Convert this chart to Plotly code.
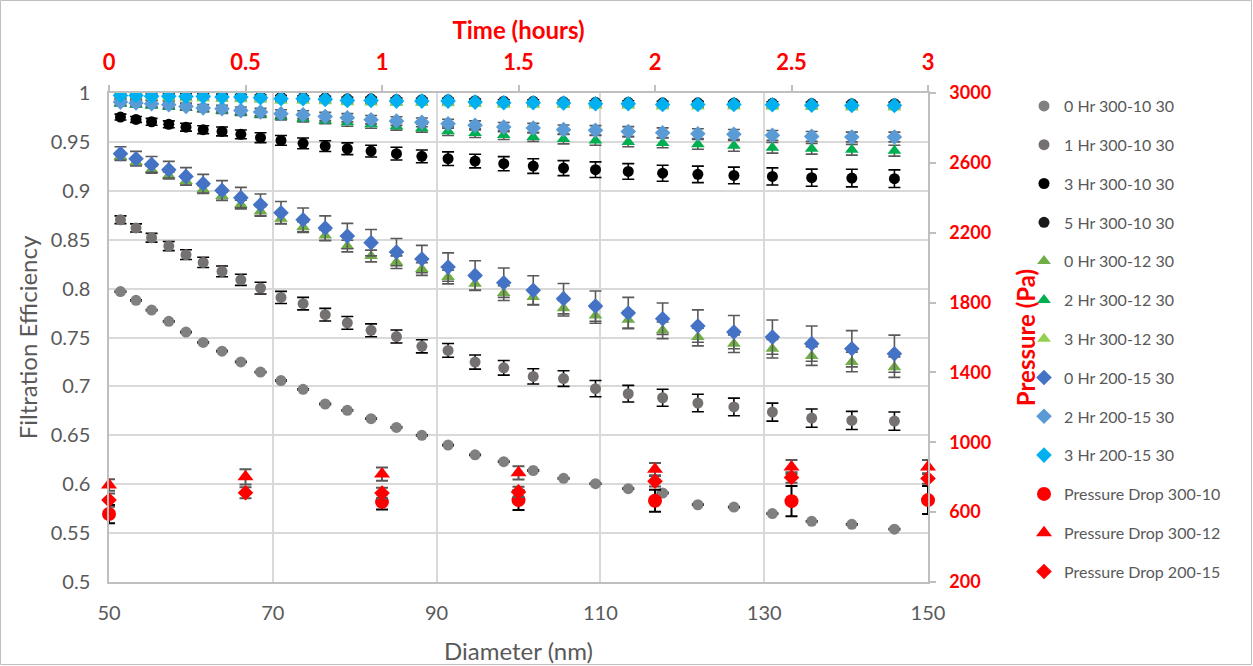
import plotly.graph_objects as go

# Particle diameters (nm) of the SMPS channels
diameter = [51.4, 53.3, 55.2, 57.3, 59.4, 61.5, 63.8, 66.1, 68.5, 71.0,
            73.7, 76.4, 79.1, 82.0, 85.1, 88.2, 91.4, 94.7, 98.2, 101.8,
            105.5, 109.4, 113.4, 117.6, 121.9, 126.3, 131.0, 135.8, 140.7, 145.9]

# Filtration efficiency, filter 300-10
eff_0h_300_10 = [0.797, 0.788, 0.778, 0.7665, 0.7555, 0.745, 0.736, 0.725, 0.7146, 0.706,
                 0.697, 0.682, 0.6755, 0.667, 0.658, 0.650, 0.640, 0.630, 0.623, 0.614,
                 0.606, 0.6005, 0.5954, 0.591, 0.579, 0.5766, 0.570, 0.562, 0.559, 0.554]
err_0h_300_10 = [0.0006] * 30

eff_1h_300_10 = [0.8704, 0.862, 0.852, 0.8435, 0.8347, 0.8268, 0.8176, 0.809, 0.8005, 0.791,
                 0.7846, 0.7733, 0.765, 0.7573, 0.751, 0.741, 0.7368, 0.7249, 0.719, 0.7102,
                 0.708, 0.6977, 0.6925, 0.6884, 0.683, 0.679, 0.6737, 0.6676, 0.6652, 0.6645]
err_1h_300_10 = [0.004, 0.0042, 0.0045, 0.0047, 0.005, 0.0052, 0.0055, 0.0057, 0.006, 0.0062,
                 0.0064, 0.0065, 0.0065, 0.0066, 0.0066, 0.0067, 0.007, 0.0072, 0.0075, 0.0078,
                 0.008, 0.0083, 0.0085, 0.0087, 0.0089, 0.009, 0.0092, 0.0093, 0.0093, 0.0093]

eff_3h_300_10 = [0.9754, 0.973, 0.9706, 0.968, 0.965, 0.9625, 0.9607, 0.9577, 0.9543, 0.9515,
                 0.9485, 0.9457, 0.943, 0.9406, 0.938, 0.9352, 0.9328, 0.9304, 0.9277, 0.9253,
                 0.9232, 0.9216, 0.9198, 0.918, 0.9168, 0.9157, 0.9147, 0.9134, 0.913, 0.9124]
err_3h_300_10 = [0.003, 0.003, 0.0035, 0.0035, 0.004, 0.004, 0.0045, 0.0045, 0.005, 0.005,
                 0.0055, 0.0055, 0.006, 0.006, 0.0065, 0.0065, 0.007, 0.007, 0.0072, 0.0075,
                 0.0077, 0.008, 0.008, 0.0082, 0.0084, 0.0085, 0.0087, 0.0088, 0.009, 0.009]

eff_5h_300_10 = [0.999, 0.999, 0.9985, 0.998, 0.998, 0.9978, 0.9972, 0.997, 0.9965, 0.9958,
                 0.9955, 0.995, 0.994, 0.994, 0.9933, 0.9932, 0.993, 0.9922, 0.9916, 0.9915,
                 0.991, 0.9905, 0.9905, 0.990, 0.990, 0.9898, 0.9895, 0.9892, 0.989, 0.989]
err_5h_300_10 = [0.0015] * 30

# Filtration efficiency, filter 300-12
eff_0h_300_12 = [0.935, 0.9294, 0.9216, 0.9157, 0.910, 0.9014, 0.8946, 0.886, 0.879, 0.8715,
                 0.863, 0.8544, 0.8435, 0.8333, 0.827, 0.820, 0.8118, 0.805, 0.7954, 0.7913,
                 0.780, 0.7726, 0.7682, 0.7573, 0.7504, 0.7437, 0.7385, 0.731, 0.725, 0.7197]
err_0h_300_12 = [0.003, 0.003, 0.0035, 0.0035, 0.004, 0.004, 0.0045, 0.0045, 0.005, 0.005,
                 0.0055, 0.0055, 0.006, 0.006, 0.0065, 0.0065, 0.007, 0.007, 0.0075, 0.0075,
                 0.008, 0.008, 0.0085, 0.0085, 0.009, 0.009, 0.0095, 0.0095, 0.010, 0.0105]

eff_2h_300_12 = [0.989, 0.988, 0.987, 0.986, 0.985, 0.9835, 0.982, 0.980, 0.978, 0.976,
                 0.974, 0.972, 0.970, 0.968, 0.966, 0.964, 0.961, 0.959, 0.957, 0.955,
                 0.953, 0.9515, 0.950, 0.949, 0.9475, 0.946, 0.944, 0.943, 0.942, 0.941]
err_2h_300_12 = [0.002, 0.002, 0.002, 0.0025, 0.0025, 0.0025, 0.003, 0.003, 0.003, 0.0035,
                 0.0035, 0.0035, 0.004, 0.004, 0.004, 0.004, 0.0045, 0.0045, 0.0045, 0.0045,
                 0.005, 0.005, 0.005, 0.005, 0.005, 0.0055, 0.0055, 0.0055, 0.0055, 0.0055]

eff_3h_300_12 = [0.9955, 0.9955, 0.9948, 0.9948, 0.9945, 0.9944, 0.9938, 0.9937, 0.9932, 0.9922,
                 0.9921, 0.9915, 0.9905, 0.9904, 0.9897, 0.9897, 0.9896, 0.9887, 0.988, 0.988,
                 0.9877, 0.987, 0.987, 0.9863, 0.9863, 0.9862, 0.986, 0.9856, 0.9853, 0.9852]
err_3h_300_12 = [0.0012] * 30

# Filtration efficiency, filter 200-15
eff_0h_200_15 = [0.938, 0.9328, 0.927, 0.9216, 0.9147, 0.9073, 0.9004, 0.893, 0.8858, 0.8776,
                 0.8704, 0.8619, 0.8537, 0.847, 0.8373, 0.8302, 0.822, 0.8135, 0.806, 0.7982,
                 0.7897, 0.7821, 0.775, 0.7692, 0.7617, 0.7555, 0.7504, 0.7437, 0.7385, 0.7334]
err_0h_200_15 = [0.007, 0.0075, 0.008, 0.0085, 0.009, 0.0095, 0.010, 0.0105, 0.011, 0.0115,
                 0.012, 0.0125, 0.013, 0.0135, 0.014, 0.014, 0.0145, 0.015, 0.015, 0.015,
                 0.0155, 0.0155, 0.016, 0.016, 0.0165, 0.017, 0.0175, 0.018, 0.0185, 0.019]

eff_2h_200_15 = [0.9907, 0.9897, 0.989, 0.988, 0.9863, 0.9846, 0.984, 0.982, 0.9805, 0.9788,
                 0.9778, 0.976, 0.9747, 0.9727, 0.9713, 0.970, 0.9686, 0.9669, 0.9652, 0.9642,
                 0.9625, 0.9618, 0.9607, 0.9594, 0.9584, 0.9577, 0.9567, 0.9556, 0.955, 0.955]
err_2h_200_15 = [0.003, 0.003, 0.003, 0.0032, 0.0033, 0.0035, 0.0035, 0.0037, 0.0038, 0.004,
                 0.004, 0.0042, 0.0042, 0.0043, 0.0044, 0.0045, 0.0045, 0.0046, 0.0047, 0.0047,
                 0.0048, 0.0048, 0.0049, 0.0049, 0.005, 0.005, 0.005, 0.005, 0.005, 0.005]

eff_3h_200_15 = [0.9975, 0.9975, 0.9968, 0.9968, 0.9965, 0.9965, 0.9958, 0.9958, 0.9952, 0.9942,
                 0.9942, 0.9935, 0.9924, 0.9924, 0.9917, 0.9917, 0.9917, 0.9907, 0.990, 0.990,
                 0.9897, 0.989, 0.989, 0.9883, 0.9883, 0.9883, 0.988, 0.9876, 0.9873, 0.9873]
err_3h_200_15 = [0.0012] * 30

# Pressure drop (Pa) against run time (hours)
time_h = [0, 0.5, 1, 1.5, 2, 2.5, 3]
dp_300_10 = [589, None, 659, 669, 665, 663, 669]
dp_err_300_10 = [52, 0, 44, 57, 63, 86, 80]
dp_300_12 = [755, 802, 818, 825, 846, 859, 859]
dp_err_300_12 = [33, 44, 38, 38, 35, 40, 40]
dp_200_15 = [669, 711, 709, 716, 777, 799, 793]
dp_err_200_15 = [38, 32, 30, 30, 30, 30, 30]

# Axis ticks
eff_ticks = [0.5, 0.55, 0.6, 0.65, 0.7, 0.75, 0.8, 0.85, 0.9, 0.95, 1.0]
eff_tick_labels = ["0.5", "0.55", "0.6", "0.65", "0.7", "0.75", "0.8", "0.85", "0.9", "0.95", "1"]
diam_ticks = [50, 70, 90, 110, 130, 150]
diam_tick_labels = ["50", "70", "90", "110", "130", "150"]
time_ticks = [0, 0.5, 1, 1.5, 2, 2.5, 3]
time_tick_labels = ["0", "0.5", "1", "1.5", "2", "2.5", "3"]
pres_ticks = [200, 600, 1000, 1400, 1800, 2200, 2600, 3000]
pres_tick_labels = ["200", "600", "1000", "1400", "1800", "2200", "2600", "3000"]

FONT = "Lato"
GREY_TXT = "#595959"
RED = "#FF0000"

fig = go.Figure()


def add_eff(name, y, err, color, symbol, size, err_color):
    fig.add_trace(go.Scatter(
        x=diameter, y=y, name=name, mode="markers", legendgroup=name,
        marker=dict(color=color, symbol=symbol, size=size, line=dict(width=0)),
        error_y=dict(type="data", array=err, visible=True, color=err_color,
                     thickness=1.6, width=6),
    ))


add_eff("0 Hr 300-10 30", eff_0h_300_10, err_0h_300_10, "#808080", "circle", 11, "#000000")
add_eff("1 Hr 300-10 30", eff_1h_300_10, err_1h_300_10, "#767171", "circle", 11, "#000000")
add_eff("3 Hr 300-10 30", eff_3h_300_10, err_3h_300_10, "#000000", "circle", 11, "#000000")
add_eff("5 Hr 300-10 30", eff_5h_300_10, err_5h_300_10, "#1A1A1A", "circle", 11, "#000000")
add_eff("0 Hr 300-12 30", eff_0h_300_12, err_0h_300_12, "#70AD47", "triangle-up", 12, "#595959")
add_eff("2 Hr 300-12 30", eff_2h_300_12, err_2h_300_12, "#00B050", "triangle-up", 12, "#595959")
add_eff("3 Hr 300-12 30", eff_3h_300_12, err_3h_300_12, "#92D050", "triangle-up", 12, "#595959")
add_eff("0 Hr 200-15 30", eff_0h_200_15, err_0h_200_15, "#4472C4", "diamond", 12, "#595959")
add_eff("2 Hr 200-15 30", eff_2h_200_15, err_2h_200_15, "#5B9BD5", "diamond", 12, "#595959")
add_eff("3 Hr 200-15 30", eff_3h_200_15, err_3h_200_15, "#00B0F0", "diamond", 12, "#595959")


def add_dp(name, y, err, symbol, size, err_color):
    fig.add_trace(go.Scatter(
        x=time_h, y=y, name=name, mode="markers", legendgroup=name,
        xaxis="x2", yaxis="y2", cliponaxis=False,
        marker=dict(color=RED, symbol=symbol, size=size, line=dict(width=0)),
        error_y=dict(type="data", array=err, visible=True, color=err_color,
                     thickness=2, width=6),
    ))


add_dp("Pressure Drop 300-10", dp_300_10, dp_err_300_10, "circle", 14, "#000000")
add_dp("Pressure Drop 300-12", dp_300_12, dp_err_300_12, "triangle-up", 14, "#595959")
add_dp("Pressure Drop 200-15", dp_200_15, dp_err_200_15, "diamond", 12, "#595959")

L, R, T, B = 109, 325, 93, 84
W, H = 1253, 666
PW, PH = W - L - R, H - T - B

axis_common = dict(showline=True, linecolor="#BFBFBF", linewidth=1.5, zeroline=False,
                   automargin=False)

fig.update_layout(
    width=W, height=H,
    margin=dict(l=L, r=R, t=T, b=B, pad=0, autoexpand=False),
    paper_bgcolor="white", plot_bgcolor="white",
    font=dict(family=FONT, color=GREY_TXT),
    showlegend=True,
    legend=dict(
        x=(1024 - L) / PW, y=1 + (T - 89) / PH, xanchor="left", yanchor="top",
        font=dict(family=FONT, size=16, color=GREY_TXT),
        tracegroupgap=15, itemwidth=30, bgcolor="rgba(0,0,0,0)",
        maxheight=640,
    ),
    xaxis=dict(
        range=[50, 150], tickvals=diam_ticks, ticktext=diam_tick_labels,
        showgrid=True, gridcolor="#D9D9D9", gridwidth=1.5,
        tickfont=dict(size=20, color=GREY_TXT, family=FONT), ticks="",
        ticklabelstandoff=12,
        title=dict(text="Diameter (nm)", font=dict(size=24, color=GREY_TXT, family=FONT), standoff=20),
        **axis_common,
    ),
    yaxis=dict(
        range=[0.5, 1.0], tickvals=eff_ticks, ticktext=eff_tick_labels,
        showgrid=True, gridcolor="#D9D9D9", gridwidth=1.5,
        tickfont=dict(size=20, color=GREY_TXT, family=FONT), ticks="",
        ticklabelstandoff=13,
        title=dict(text="Filtration Efficiency", font=dict(size=24, color=GREY_TXT, family=FONT), standoff=6),
        **axis_common,
    ),
    xaxis2=dict(
        overlaying="x", side="top", range=[0, 3],
        tickvals=time_ticks, ticktext=time_tick_labels, showgrid=False,
        ticks="outside", ticklen=6, tickcolor="#BFBFBF", tickwidth=1.5,
        ticklabelstandoff=6,
        tickfont=dict(size=22, color=RED, family=FONT, weight="bold"),
        title=dict(text="Time (hours)", font=dict(size=24, color=RED, family=FONT, weight="bold"), standoff=2),
        **axis_common,
    ),
    yaxis2=dict(
        overlaying="y", side="right", range=[200, 3000],
        tickvals=pres_ticks, ticktext=pres_tick_labels, showgrid=False,
        ticks="outside", ticklen=6, tickcolor="#BFBFBF", tickwidth=1.5,
        ticklabelstandoff=10,
        tickfont=dict(size=18, color=RED, family=FONT, weight="bold"),
        title=dict(text="Pressure (Pa)", font=dict(size=24, color=RED, family=FONT, weight="bold"), standoff=28),
        **axis_common,
    ),
    shapes=[dict(
        type="rect", xref="paper", yref="paper",
        x0=(0.5 - L) / PW, x1=(W - 1.5 - L) / PW,
        y0=-(B - 1.5) / PH, y1=1 + (T - 0.5) / PH,
        line=dict(color="#BFBFBF", width=1), fillcolor="rgba(0,0,0,0)", layer="below",
    )],
)

fig.write_html("out.html")
